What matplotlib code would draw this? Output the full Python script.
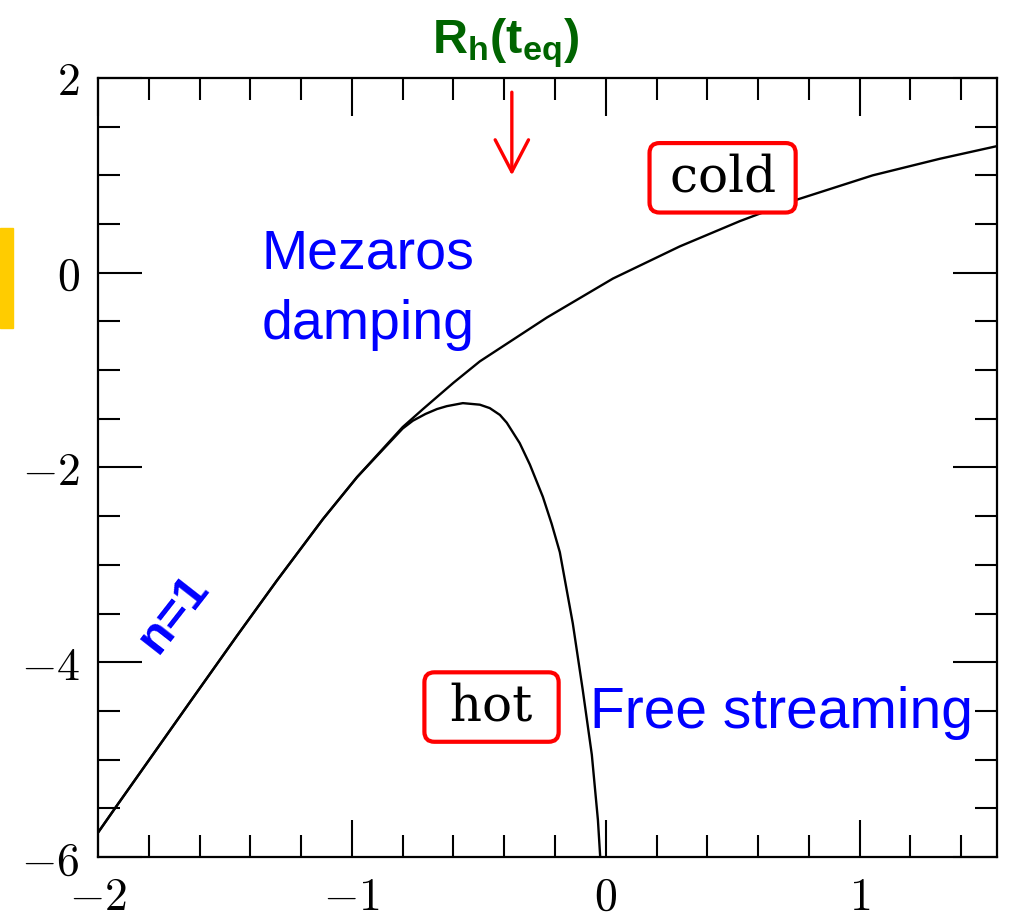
import matplotlib
matplotlib.use("Agg")
import matplotlib.pyplot as plt
from matplotlib.patches import Rectangle

# === DATA ===
COLD_X = [-2.0, -1.925, -1.795, -1.638, -1.453, -1.295, -1.114, -0.980, -0.800,
          -0.720, -0.600, -0.496, -0.232, 0.028, 0.291, 0.528, 0.752, 1.051,
          1.315, 1.54]
COLD_Y = [-5.75, -5.47, -4.99, -4.41, -3.73, -3.16, -2.53, -2.10, -1.585,
          -1.40, -1.13, -0.91, -0.46, -0.06, 0.27, 0.53, 0.75, 1.00,
          1.17, 1.30]

HOT_X = [-2.0, -1.925, -1.795, -1.638, -1.453, -1.295, -1.114, -0.980, -0.800,
         -0.760, -0.710, -0.665, -0.626, -0.563, -0.496, -0.457, -0.417, -0.390,
         -0.339, -0.299, -0.248, -0.213, -0.181, -0.130, -0.091, -0.055, -0.031,
         -0.022]
HOT_Y = [-5.75, -5.47, -4.99, -4.41, -3.73, -3.16, -2.53, -2.10, -1.60,
         -1.52, -1.45, -1.40, -1.37, -1.339, -1.355, -1.39, -1.46, -1.54,
         -1.75, -1.97, -2.30, -2.58, -2.87, -3.60, -4.28, -4.95, -5.62,
         -6.0]

X_MAJOR = [-2, -1, 0, 1]
Y_MAJOR = [-6, -4, -2, 0, 2]
X_LIM = (-2, 1.54)
Y_LIM = (-6, 2)

plt.rcParams['mathtext.rm'] = 'Liberation Sans:bold'
plt.rcParams['mathtext.it'] = 'Liberation Sans:bold'
plt.rcParams['mathtext.bf'] = 'Liberation Sans:bold'

fig = plt.figure(figsize=(10.12, 9.24), dpi=100)
ax = fig.add_axes([0.0968, 0.0725, 0.8882, 0.8431])

ax.plot(COLD_X, COLD_Y, color='black', lw=1.7)
ax.plot(HOT_X, HOT_Y, color='black', lw=1.7)

ax.set_xlim(*X_LIM)
ax.set_ylim(*Y_LIM)

# === Ticks ===
ax.set_xticks(X_MAJOR, ["$%d$" % v for v in X_MAJOR])
ax.set_yticks(Y_MAJOR, ["$%d$" % v for v in Y_MAJOR])
ax.set_xticks([-2 + 0.2 * i for i in range(18)], minor=True)
ax.set_yticks([-6 + 0.5 * i for i in range(17)], minor=True)
ax.tick_params(which='both', direction='in', top=True, right=True, width=1.5,
               labelsize=33)
ax.tick_params(axis='y', which='major', length=32, pad=13)
ax.tick_params(axis='x', which='major', length=27, pad=13)
ax.tick_params(which='minor', length=16)
for lbl in ax.get_xticklabels() + ax.get_yticklabels():
    lbl.set_math_fontfamily('cm')
for s in ax.spines.values():
    s.set_linewidth(1.6)

# === Annotations ===
ax.text(-1.354, 0.047, "Mezaros", color='#0000FF', fontsize=40,
        family='Liberation Sans', ha='left', va='baseline')
ax.text(-1.354, -0.68, "damping", color='#0000FF', fontsize=40,
        family='Liberation Sans', ha='left', va='baseline')
ax.text(-0.063, -4.675, "Free streaming", color='#0000FF', fontsize=41,
        family='Liberation Sans', ha='left', va='baseline')
ax.text(-1.70, -3.50, "n=1", color='#0000FF', fontsize=35, fontweight='bold',
        family='Liberation Sans', rotation=52, ha='center', va='center',
        rotation_mode='anchor')

box = dict(boxstyle='round,pad=0.2', fc='white', ec='#FF0000', lw=3)
ax.text(0.460, 0.975, "\u2009cold\u2009", fontsize=36, family='DejaVu Serif',
        ha='center', va='center', bbox=box, zorder=5)
ax.text(-0.450, -4.46, " hot ", fontsize=36, family='DejaVu Serif',
        ha='center', va='center', bbox=box, zorder=5)

ax.text(-0.685, 2.255, r"$\mathrm{R_h(t_{eq})}$", color='#006400', fontsize=35,
        math_fontfamily='custom', ha='left', va='baseline', clip_on=False)
ax.annotate("", xy=(-0.37, 1.0), xytext=(-0.37, 1.854),
            arrowprops=dict(arrowstyle='->,head_length=23,head_width=12',
                            mutation_scale=1, color='#FF0000', lw=2.4,
                            shrinkA=0, shrinkB=0))

# yellow marker at the left edge
fig.patches.append(Rectangle((0, 1 - 328 / 924), 13 / 1012, 100 / 924,
                             transform=fig.transFigure, color='#FFCC00'))

plt.savefig("out.png", dpi=100)
